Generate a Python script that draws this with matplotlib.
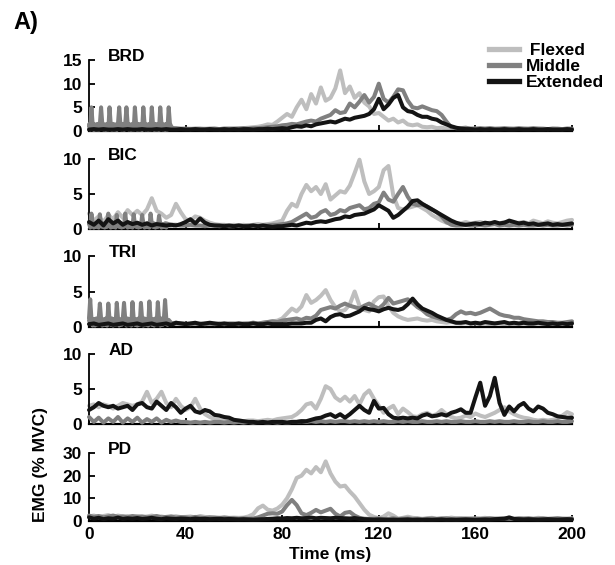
import matplotlib
matplotlib.use("Agg")
import matplotlib.pyplot as plt
import numpy as np
from matplotlib.lines import Line2D

plt.rcParams["font.family"] = ["Liberation Sans", "DejaVu Sans"]
plt.rcParams["font.weight"] = "bold"

# time grids (ms)
T = np.arange(0, 201, 2)
T_STIM = np.arange(0, 35.5, 0.5)

CONDITIONS = ["Flexed", "Middle", "Extended"]
MUSCLES = ["BRD", "BIC", "TRI", "AD", "PD"]
X_TICKS = [0, 40, 80, 120, 160, 200]

# ---- BRD ----
BRD_FLEX = [
    0.4, 0.5, 0.4, 0.5, 0.4, 0.5, 0.4, 0.5, 0.4, 0.5,
    0.4, 0.5, 0.4, 0.5, 0.4, 0.5, 0.4, 0.5, 0.4, 0.4,
    0.4, 0.5, 0.4, 0.4, 0.5, 0.4, 0.5, 0.4, 0.5, 0.5,
    0.5, 0.6, 0.6, 0.7, 0.8, 0.9, 1.1, 1.4, 1.3, 2.0,
    2.8, 3.6, 3.0, 5.0, 6.6, 4.6, 7.8, 5.8, 9.2, 6.4,
    7.0, 9.0, 12.8, 8.0, 9.4, 7.0, 8.0, 6.0, 5.2, 3.6,
    3.8, 3.0, 2.2, 2.6, 1.8, 2.2, 1.4, 1.2, 1.4, 0.9,
    0.8, 0.9, 0.6, 0.7, 0.5, 0.6, 0.5, 0.5, 0.6, 0.5,
    0.5, 0.4, 0.5, 0.5, 0.4, 0.5, 0.4, 0.5, 0.4, 0.4,
    0.5, 0.4, 0.4, 0.5, 0.4, 0.4, 0.5, 0.4, 0.4, 0.5,
    0.4,
]
BRD_MID = [
    1.0, 0.8, 1.1, 0.9, 1.0, 0.8, 1.1, 0.9, 1.0, 0.8,
    1.1, 0.9, 1.0, 0.8, 1.1, 0.9, 1.0, 0.6, 0.6, 0.5,
    0.5, 0.4, 0.5, 0.5, 0.4, 0.5, 0.5, 0.4, 0.5, 0.5,
    0.5, 0.5, 0.6, 0.5, 0.6, 0.6, 0.7, 0.8, 0.9, 1.0,
    1.2, 1.3, 1.5, 1.4, 1.7, 2.0, 2.2, 2.0, 2.6, 3.0,
    3.4, 4.4, 3.8, 4.0, 5.8, 5.0, 6.2, 7.6, 6.0, 7.2,
    10.0, 6.8, 6.0, 7.2, 8.8, 8.6, 6.4, 5.0, 4.8, 5.2,
    4.8, 4.4, 4.2, 3.4, 2.0, 0.8, 0.6, 0.6, 0.7, 0.5,
    0.5, 0.6, 0.5, 0.6, 0.5, 0.5, 0.6, 0.5, 0.5, 0.6,
    0.5, 0.5, 0.6, 0.5, 0.5, 0.4, 0.5, 0.5, 0.4, 0.5,
    0.5,
]
BRD_EXT = [
    0.3, 0.4, 0.3, 0.4, 0.3, 0.3, 0.4, 0.3, 0.4, 0.3,
    0.3, 0.4, 0.3, 0.3, 0.4, 0.3, 0.4, 0.3, 0.3, 0.4,
    0.3, 0.3, 0.4, 0.3, 0.3, 0.4, 0.3, 0.3, 0.4, 0.3,
    0.4, 0.3, 0.4, 0.4, 0.3, 0.4, 0.4, 0.5, 0.4, 0.5,
    0.6, 0.5, 0.8, 1.0, 0.9, 1.2, 1.0, 1.4, 1.6, 1.8,
    2.0, 1.8, 2.2, 2.6, 2.4, 2.8, 3.0, 3.2, 3.6, 4.6,
    6.8, 4.6, 5.6, 7.0, 7.6, 5.0, 4.2, 4.0, 3.4, 3.0,
    3.0, 2.6, 2.4, 1.8, 1.4, 1.0, 0.7, 0.5, 0.4, 0.4,
    0.3, 0.4, 0.3, 0.4, 0.3, 0.3, 0.4, 0.3, 0.3, 0.4,
    0.3, 0.3, 0.4, 0.3, 0.3, 0.4, 0.3, 0.3, 0.3, 0.4,
    0.3,
]
BRD_STIM = [
    1.4, 0.3, 5.0, 1.5, 0.2, 1.4, 0.3, 1.5, 0.2, 1.4,
    5.0, 1.5, 0.3, 1.4, 0.2, 1.5, 0.3, 5.0, 1.4, 0.2,
    1.5, 0.3, 1.4, 0.2, 1.5, 5.0, 1.4, 0.3, 1.5, 0.2,
    1.4, 5.0, 1.5, 0.3, 1.4, 0.2, 1.5, 0.3, 5.0, 1.4,
    0.2, 1.5, 0.3, 1.4, 0.2, 5.0, 1.5, 0.3, 1.4, 0.2,
    1.5, 0.3, 5.0, 1.4, 0.2, 1.5, 0.3, 1.4, 0.2, 5.0,
    1.5, 0.3, 1.4, 0.2, 1.5, 0.3, 5.0, 1.6, 1.0, 0.7,
    0.5,
]

# ---- BIC ----
BIC_FLEX = [
    2.2, 1.2, 1.8, 1.0, 2.0, 1.4, 2.4, 1.6, 2.7, 2.0,
    2.6, 2.0, 2.8, 4.4, 2.6, 2.2, 1.6, 2.0, 3.6, 2.4,
    1.4, 1.2, 1.8, 1.6, 1.2, 0.9, 0.7, 0.6, 0.6, 0.5,
    0.6, 0.5, 0.6, 0.5, 0.6, 0.7, 0.6, 0.7, 0.8, 1.0,
    1.2, 2.6, 3.6, 3.2, 5.0, 6.3, 5.4, 6.0, 5.0, 6.4,
    4.2, 4.8, 5.4, 5.2, 6.2, 8.0, 9.9, 6.8, 5.0, 5.4,
    6.0, 8.4, 9.0, 4.8, 3.0, 2.8, 3.0, 3.2, 3.4, 3.0,
    2.6, 2.0, 1.6, 1.2, 0.9, 0.8, 0.7, 0.8, 1.0, 0.8,
    0.9, 1.0, 0.8, 0.9, 0.7, 0.8, 1.0, 0.8, 0.7, 0.9,
    1.0, 0.8, 1.2, 1.0, 0.8, 1.1, 0.9, 0.8, 1.0, 1.2,
    1.3,
]
BIC_MID = [
    0.8, 0.6, 0.7, 0.6, 0.8, 0.6, 0.7, 0.6, 0.8, 0.6,
    0.7, 0.6, 0.8, 0.6, 0.7, 0.6, 0.8, 0.6, 0.6, 0.5,
    0.5, 0.6, 0.5, 0.5, 0.4, 0.5, 0.5, 0.4, 0.5, 0.4,
    0.4, 0.5, 0.4, 0.5, 0.5, 0.4, 0.5, 0.5, 0.6, 0.6,
    0.7, 0.8, 1.0, 1.4, 1.8, 2.2, 1.6, 1.8, 2.4, 2.7,
    2.0, 2.2, 2.7, 2.5, 3.0, 3.2, 3.4, 2.8, 3.0, 3.6,
    3.8, 5.2, 4.2, 3.9, 5.0, 6.0, 4.6, 3.6, 3.4, 3.5,
    3.2, 2.8, 2.4, 1.8, 1.0, 0.6, 0.5, 0.5, 0.6, 0.5,
    0.5, 0.6, 0.5, 0.6, 0.7, 0.5, 0.6, 0.5, 0.6, 0.5,
    0.6, 0.5, 0.5, 0.6, 0.5, 0.6, 0.5, 0.5, 0.6, 0.5,
    0.6,
]
BIC_EXT = [
    1.0, 0.6, 1.2, 0.5, 1.4, 0.8, 1.2, 0.6, 1.0, 0.7,
    0.9, 0.6, 0.8, 0.5, 0.7, 0.6, 0.5, 0.6, 0.5, 0.7,
    1.0, 1.4, 0.8, 1.5, 0.9, 0.6, 0.5, 0.5, 0.4, 0.5,
    0.4, 0.5, 0.4, 0.4, 0.5, 0.4, 0.5, 0.4, 0.3, 0.4,
    0.4, 0.5, 0.6, 0.5, 0.7, 0.9, 0.8, 1.0, 1.1, 1.0,
    1.2, 1.4, 1.5, 1.8, 1.7, 2.0, 2.1, 2.2, 2.5, 2.8,
    3.4, 3.0, 2.6, 1.6, 2.0, 2.6, 3.2, 4.0, 4.1, 3.6,
    3.2, 2.8, 2.4, 2.0, 1.6, 1.2, 0.9, 0.7, 0.6, 0.7,
    0.8, 0.7, 0.9, 0.8, 1.0, 0.8, 0.9, 1.2, 1.0, 0.8,
    0.9, 0.7, 0.8, 0.6, 0.7, 0.8, 0.6, 0.7, 0.6, 0.7,
    0.8,
]
BIC_STIM = [
    0.8, 0.2, 2.2, 0.8, 0.2, 0.7, 0.3, 0.8, 0.2, 2.1,
    0.7, 0.3, 0.8, 0.2, 0.7, 0.3, 2.2, 0.8, 0.2, 0.7,
    0.3, 0.8, 0.2, 2.0, 0.7, 0.3, 0.8, 0.2, 0.7, 0.3,
    2.2, 0.8, 0.2, 0.7, 0.3, 0.8, 0.2, 2.1, 0.7, 0.3,
    0.8, 0.2, 0.7, 0.3, 2.0, 0.8, 0.2, 0.7, 0.3, 0.8,
    0.2, 2.2, 0.7, 0.3, 0.8, 0.2, 0.7, 0.3, 1.9, 0.8,
    0.2, 0.7, 0.3, 0.8, 0.2, 0.7, 0.6, 0.5, 0.5, 0.6,
    0.5,
]

# ---- TRI ----
TRI_FLEX = [
    0.5, 0.4, 0.6, 0.5, 0.4, 0.5, 0.6, 0.4, 0.5, 0.5,
    0.4, 0.6, 0.5, 0.4, 0.5, 0.5, 0.4, 0.5, 0.4, 0.5,
    0.4, 0.5, 0.4, 0.4, 0.5, 0.4, 0.5, 0.4, 0.5, 0.4,
    0.4, 0.5, 0.4, 0.5, 0.6, 0.5, 0.6, 0.7, 0.8, 0.9,
    1.2, 1.9, 2.6, 2.2, 2.9, 4.5, 3.4, 3.8, 4.4, 5.2,
    3.8, 2.8, 2.2, 2.4, 3.2, 5.0, 3.0, 2.4, 2.2, 3.6,
    4.2, 4.3, 3.0, 2.0, 1.5, 1.2, 1.0, 1.1, 1.2, 1.0,
    0.9, 1.0, 0.8, 0.7, 0.6, 0.7, 0.6, 0.5, 0.6, 0.5,
    0.5, 0.4, 0.5, 0.4, 0.5, 0.5, 0.4, 0.5, 0.4, 0.4,
    0.5, 0.4, 0.4, 0.5, 0.4, 0.5, 0.4, 0.4, 0.5, 0.4,
    0.5,
]
TRI_MID = [
    0.9, 0.7, 0.9, 0.8, 0.7, 0.9, 0.8, 0.7, 0.9, 0.8,
    0.7, 0.9, 0.8, 0.7, 0.9, 0.8, 0.7, 0.5, 0.6, 0.5,
    0.5, 0.4, 0.5, 0.5, 0.4, 0.5, 0.4, 0.5, 0.4, 0.5,
    0.5, 0.4, 0.5, 0.5, 0.6, 0.5, 0.6, 0.7, 0.8, 0.7,
    0.9, 1.0, 1.1, 1.2, 1.0, 1.3, 1.2, 1.6, 2.4, 2.6,
    2.8, 2.6, 3.0, 3.3, 3.0, 2.8, 2.6, 3.0, 3.3, 2.9,
    2.6, 3.2, 4.1, 3.3, 3.5, 3.7, 3.9, 3.4, 2.8, 2.4,
    1.8, 1.5, 1.3, 1.1, 1.0, 1.2, 1.8, 2.2, 1.9, 2.0,
    1.8, 2.0, 2.3, 2.6, 2.2, 1.8, 1.6, 1.5, 1.3, 1.3,
    1.1, 1.0, 0.9, 0.8, 0.8, 0.7, 0.7, 0.6, 0.6, 0.7,
    0.8,
]
TRI_EXT = [
    0.4, 0.5, 0.3, 0.4, 0.5, 0.3, 0.4, 0.5, 0.3, 0.4,
    0.5, 0.3, 0.4, 0.5, 0.3, 0.4, 0.5, 0.3, 0.6, 0.5,
    0.4, 0.5, 0.6, 0.4, 0.5, 0.6, 0.5, 0.4, 0.5, 0.4,
    0.4, 0.5, 0.4, 0.4, 0.5, 0.4, 0.4, 0.5, 0.4, 0.4,
    0.4, 0.4, 0.5, 0.5, 0.5, 0.6, 0.6, 1.0, 1.2, 0.8,
    1.4, 1.7, 1.8, 1.5, 1.6, 1.9, 2.2, 2.7, 2.5, 2.4,
    2.2, 2.5, 2.7, 2.5, 2.4, 2.6, 3.2, 4.0, 3.2, 2.6,
    2.3, 2.0, 1.6, 1.3, 1.0, 0.8, 0.6, 0.6, 0.7, 0.5,
    0.6, 0.5, 0.7, 0.6, 0.5, 0.6, 0.7, 0.5, 0.6, 0.5,
    0.6, 0.5, 0.5, 0.6, 0.5, 0.4, 0.5, 0.4, 0.5, 0.4,
    0.5,
]
TRI_STIM = [
    1.2, 3.9, 1.2, 0.2, 1.1, 0.2, 1.2, 0.3, 1.1, 3.3,
    1.2, 0.2, 1.1, 0.3, 1.2, 0.2, 3.3, 1.1, 0.3, 1.2,
    0.2, 1.1, 0.3, 3.4, 1.2, 0.2, 1.1, 0.3, 1.2, 3.4,
    1.1, 0.2, 1.2, 0.3, 1.1, 0.2, 3.5, 1.2, 0.3, 1.1,
    0.2, 1.2, 0.3, 3.4, 1.1, 0.2, 1.2, 0.3, 1.1, 0.2,
    3.6, 1.2, 0.3, 1.1, 0.2, 1.2, 0.3, 3.5, 1.1, 0.2,
    1.2, 0.3, 1.1, 3.8, 1.2, 0.3, 1.0, 0.8, 0.6, 0.5,
    0.4,
]

# ---- AD ----
AD_FLEX = [
    2.6, 2.8, 2.4, 2.8, 2.6, 2.2, 2.6, 3.0, 2.8, 2.6,
    2.8, 3.2, 4.6, 3.0, 3.6, 4.6, 3.0, 2.4, 3.6, 2.6,
    2.0, 2.4, 3.6, 2.2, 1.4, 1.0, 0.7, 0.6, 0.5, 0.5,
    0.4, 0.5, 0.4, 0.5, 0.5, 0.4, 0.5, 0.6, 0.5, 0.7,
    0.8, 0.9, 1.0, 1.4, 2.0, 2.8, 3.0, 2.2, 3.6, 5.4,
    5.0, 3.8, 3.3, 3.9, 3.2, 4.0, 2.8, 4.2, 4.8, 3.6,
    2.6, 1.6, 2.2, 2.6, 1.4, 2.2, 1.7, 1.1, 1.0, 1.4,
    1.6, 1.2, 1.4, 2.0, 1.4, 1.0, 0.8, 0.9, 1.2, 1.0,
    1.5, 1.2, 1.0, 1.3, 1.6, 2.0, 2.4, 1.8, 1.4, 1.1,
    0.9, 0.8, 0.6, 0.5, 0.6, 0.5, 0.6, 0.8, 1.2, 1.7,
    1.4,
]
AD_MID = [
    1.0, 0.3, 0.9, 0.2, 0.8, 0.3, 1.0, 0.2, 0.8, 0.3,
    0.9, 0.2, 0.7, 0.3, 0.8, 0.2, 0.6, 0.3, 0.5, 0.3,
    0.3, 0.2, 0.3, 0.2, 0.3, 0.2, 0.3, 0.3, 0.2, 0.3,
    0.2, 0.3, 0.2, 0.3, 0.2, 0.3, 0.3, 0.2, 0.3, 0.2,
    0.3, 0.2, 0.3, 0.3, 0.4, 0.3, 0.4, 0.3, 0.4, 0.3,
    0.4, 0.3, 0.4, 0.4, 0.3, 0.4, 0.3, 0.4, 0.3, 0.4,
    0.3, 0.4, 0.3, 0.3, 0.4, 0.3, 0.4, 0.3, 0.3, 0.4,
    0.3, 0.3, 0.4, 0.3, 0.4, 0.3, 0.3, 0.4, 0.3, 0.3,
    0.4, 0.3, 0.3, 0.4, 0.3, 0.4, 0.3, 0.3, 0.4, 0.3,
    0.3, 0.4, 0.3, 0.3, 0.4, 0.3, 0.3, 0.4, 0.3, 0.3,
    0.4,
]
AD_EXT = [
    2.0, 2.4, 3.0, 2.6, 2.4, 2.6, 2.2, 2.4, 2.6, 2.0,
    2.8, 3.0, 2.4, 2.2, 3.2, 2.6, 2.0, 3.0, 2.4, 1.6,
    2.2, 2.6, 1.8, 1.6, 2.0, 1.8, 1.3, 1.2, 1.0, 0.9,
    0.6, 0.5, 0.4, 0.3, 0.3, 0.2, 0.3, 0.2, 0.3, 0.3,
    0.3, 0.2, 0.3, 0.3, 0.4, 0.4, 0.6, 0.8, 0.9, 1.2,
    1.4, 1.0, 1.4, 0.9, 1.4, 2.0, 2.6, 2.0, 1.6, 3.3,
    2.2, 2.3, 1.4, 0.9, 0.8, 0.9, 0.8, 0.9, 0.8, 1.2,
    1.4, 1.1, 1.2, 1.4, 1.2, 1.6, 1.8, 2.1, 1.6, 1.6,
    3.8, 5.9, 2.6, 4.0, 6.6, 3.0, 1.3, 2.5, 1.8, 2.6,
    3.0, 2.2, 1.8, 2.5, 2.2, 1.6, 1.4, 1.1, 1.0, 0.9,
    0.9,
]

# ---- PD ----
PD_FLEX = [
    2.0, 2.4, 1.8, 2.2, 2.6, 1.8, 2.4, 2.0, 2.2, 1.9,
    2.2, 1.8, 2.0, 2.4, 1.8, 2.0, 1.6, 1.9, 2.1, 1.7,
    1.8, 2.0, 1.6, 2.2, 1.8, 1.6, 1.7, 1.5, 1.6, 1.4,
    1.5, 1.4, 1.5, 2.0, 3.0, 5.6, 6.8, 5.0, 4.6, 5.5,
    7.2, 10.0, 14.0, 19.0, 20.0, 22.6, 21.0, 23.8, 21.5, 26.3,
    21.0, 17.4, 15.2, 15.6, 13.0, 10.8, 7.9, 5.0, 2.8, 1.8,
    1.2, 2.0, 3.4, 2.4, 1.0, 1.4, 1.9, 1.4, 1.2, 1.0,
    1.2, 1.4, 1.0, 1.3, 1.1, 1.5, 1.2, 1.0, 1.3, 1.1,
    1.0, 1.2, 1.4, 1.1, 1.0, 1.3, 1.2, 1.0, 1.1, 1.3,
    1.2, 1.0, 1.1, 1.4, 1.2, 1.0, 1.1, 1.2, 1.0, 1.1,
    1.2,
]
PD_MID = [
    2.4, 1.8, 2.2, 1.6, 2.0, 2.4, 1.8, 2.0, 1.6, 2.2,
    1.8, 2.0, 1.6, 1.8, 2.2, 1.6, 1.8, 2.0, 1.5, 1.7,
    1.6, 1.4, 1.8, 1.5, 1.3, 1.6, 1.4, 1.2, 1.5, 1.3,
    1.2, 1.0, 1.2, 1.0, 1.1, 1.6, 2.4, 3.2, 3.4, 3.2,
    4.2, 7.0, 9.3, 7.0, 3.4, 2.6, 3.6, 4.9, 3.8, 4.6,
    5.4, 3.2, 2.0, 3.6, 4.0, 2.4, 1.4, 1.0, 0.9, 1.0,
    1.1, 0.9, 1.0, 1.2, 0.9, 1.0, 1.1, 0.9, 1.0, 0.8,
    1.0, 1.1, 0.9, 1.0, 1.2, 0.9, 1.0, 1.1, 0.9, 1.0,
    1.1, 0.9, 1.0, 1.2, 1.0, 0.9, 1.1, 1.0, 0.9, 1.1,
    1.0, 1.2, 0.9, 1.0, 1.1, 0.9, 1.0, 1.2, 1.0, 0.9,
    1.0,
]
PD_EXT = [
    1.6, 1.0, 1.4, 0.8, 1.2, 1.0, 1.5, 0.9, 1.2, 1.0,
    1.3, 0.9, 1.1, 1.4, 1.0, 0.8, 1.2, 1.0, 0.9, 1.1,
    1.0, 0.8, 1.1, 0.9, 1.0, 0.8, 0.9, 1.0, 0.8, 0.9,
    0.8, 0.7, 0.8, 0.7, 0.6, 0.7, 0.8, 0.9, 1.0, 1.2,
    1.1, 1.3, 1.2, 1.4, 1.2, 1.3, 1.5, 1.2, 1.4, 1.3,
    1.2, 1.4, 1.3, 1.2, 1.1, 1.3, 1.0, 0.8, 0.7, 0.6,
    0.7, 0.6, 0.5, 0.6, 0.5, 0.6, 0.7, 0.5, 0.6, 0.5,
    0.6, 0.5, 0.6, 0.7, 0.5, 0.6, 0.5, 0.6, 0.7, 0.6,
    0.5, 0.6, 0.7, 0.6, 0.8, 0.9, 1.0, 1.6, 0.9, 0.8,
    0.7, 0.8, 0.7, 0.6, 0.7, 0.8, 0.7, 0.6, 0.7, 0.8,
    0.7,
]

Y_TICKS = {
    "BRD": [0, 5, 10, 15],
    "BIC": [0, 5, 10],
    "TRI": [0, 5, 10],
    "AD": [0, 5, 10],
    "PD": [0, 10, 20, 30],
}

SERIES = {
    "BRD": (BRD_FLEX, BRD_MID, BRD_EXT, BRD_STIM),
    "BIC": (BIC_FLEX, BIC_MID, BIC_EXT, BIC_STIM),
    "TRI": (TRI_FLEX, TRI_MID, TRI_EXT, TRI_STIM),
    "AD": (AD_FLEX, AD_MID, AD_EXT, None),
    "PD": (PD_FLEX, PD_MID, PD_EXT, None),
}

COLORS = {"Flexed": "#bebebe", "Middle": "#808080", "Extended": "#141414"}
LW = 2.9
LINE_KW = dict(lw=LW, clip_on=False, solid_joinstyle="round", solid_capstyle="round")

W, H = 615, 565
# panel (bottom, top) in pixels from the top of the figure
PANEL_PX = {"BRD": (131, 60), "BIC": (229, 159), "TRI": (327, 256),
            "AD": (424, 354), "PD": (521, 453)}
LEFT_PX, RIGHT_PX = 89, 572

fig = plt.figure(figsize=(W / 100, H / 100), dpi=100)

for name in MUSCLES:
    bot, top = PANEL_PX[name]
    ax = fig.add_axes([LEFT_PX / W, 1 - bot / H, (RIGHT_PX - LEFT_PX) / W, (bot - top) / H])
    flex, mid, ext, stim = SERIES[name]
    ax.plot(T, flex, color=COLORS["Flexed"], zorder=2, **LINE_KW)
    ax.plot(T, mid, color=COLORS["Middle"], zorder=3, **LINE_KW)
    if stim is not None:
        ax.plot(T_STIM, stim, color=COLORS["Middle"], zorder=3, **LINE_KW)
    ax.plot(T, ext, color=COLORS["Extended"], zorder=4, **LINE_KW)

    yt = Y_TICKS[name]
    ax.set_xlim(0, 200)
    ax.set_ylim(0, yt[-1])
    ax.set_yticks(yt)
    ax.set_xticks(X_TICKS)
    for side in ["top", "right"]:
        ax.spines[side].set_visible(False)
    ax.spines["left"].set_linewidth(1.3)
    ax.spines["bottom"].set_linewidth(1.6)
    ax.tick_params(axis="both", direction="in", length=4, width=1.3, labelsize=12.5)
    ax.tick_params(axis="y", pad=5)
    ax.tick_params(axis="x", pad=4)
    if name != "PD":
        ax.tick_params(axis="x", labelbottom=False)
    ax.text(0.04, 1.05, name, transform=ax.transAxes, fontsize=12.5,
            fontweight="bold", ha="left", va="center")

handles = [Line2D([], [], color=COLORS[c], lw=3.8) for c in CONDITIONS]
fig.legend(handles, [" Flexed", "Middle", "Extended"], loc="upper left",
           bbox_to_anchor=(489 / W, 1 - 43 / H), frameon=False, fontsize=12.5,
           handlelength=1.75, handletextpad=0.35, labelspacing=0.05,
           borderpad=0, borderaxespad=0)

fig.text(13 / W, 1 - 23 / H, "A)", fontsize=17, fontweight="bold", ha="left", va="center")
fig.text(40 / W, 1 - 464 / H, "EMG (% MVC)", rotation=90, fontsize=12.5,
         fontweight="bold", ha="center", va="center")
fig.text(330 / W, 1 - 555 / H, "Time (ms)", fontsize=12.5, fontweight="bold",
         ha="center", va="center")

fig.savefig("out.png", dpi=100)
